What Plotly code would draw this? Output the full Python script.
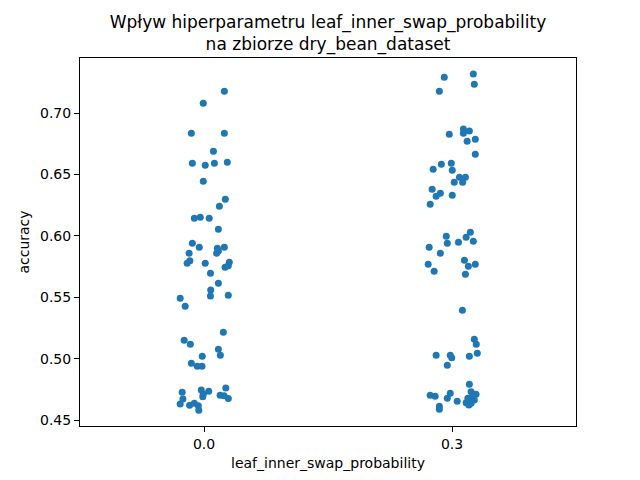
import plotly.graph_objects as go

# categories of the hyperparameter
categories = ["0.0", "0.3"]

# accuracy values for leaf_inner_swap_probability = 0.0
acc_00 = [0.7177, 0.7079, 0.6835, 0.6835, 0.6688, 0.6591, 0.6574, 0.6591, 0.6599, 0.6444,
          0.6298, 0.6241, 0.6143, 0.6151, 0.6143, 0.6053, 0.5939, 0.5907, 0.5899, 0.5907,
          0.5858, 0.5858, 0.5877, 0.5777, 0.5798, 0.5777, 0.5785, 0.5744, 0.5757, 0.5695,
          0.5614, 0.5559, 0.5510, 0.5516, 0.5492, 0.5427, 0.5215, 0.5150, 0.5117, 0.5077,
          0.5028, 0.5020, 0.4963, 0.4938, 0.4938, 0.4727, 0.4672, 0.4631, 0.4621, 0.4637,
          0.4617, 0.4580, 0.4745, 0.4710, 0.4735, 0.4762, 0.4702, 0.4699, 0.4675, 0.4690]
jitter_00 = [0.082, -0.003, -0.051, 0.082, 0.038, -0.047, 0.005, 0.042, 0.094, -0.003,
             0.086, 0.062, -0.039, -0.015, 0.021, 0.058, -0.047, -0.019, 0.054, 0.082,
             -0.060, 0.051, 0.058, -0.068, -0.057, 0.005, 0.102, 0.085, 0.098, 0.026,
             0.058, 0.027, 0.026, 0.098, -0.096, -0.076, 0.078, -0.080, -0.055, 0.058,
             0.066, -0.007, -0.051, -0.027, -0.008, -0.088, -0.085, -0.096, -0.058, -0.039,
             -0.023, -0.021, -0.011, -0.003, 0.019, 0.088, 0.065, 0.081, 0.098, -0.005]

# accuracy values for leaf_inner_swap_probability = 0.3
acc_03 = [0.7291, 0.7317, 0.7234, 0.7177, 0.6827, 0.6870, 0.6835, 0.6853, 0.6770, 0.6786,
          0.6664, 0.6591, 0.6582, 0.6542, 0.6534, 0.6477, 0.6477, 0.6436, 0.6436, 0.6379,
          0.6346, 0.6322, 0.6330, 0.6257, 0.6029, 0.5996, 0.5988, 0.5939, 0.5948, 0.5956,
          0.5907, 0.5858, 0.5768, 0.5711, 0.5801, 0.5752, 0.5768, 0.5687, 0.5394, 0.5158,
          0.5117, 0.5028, 0.5028, 0.5008, 0.5020, 0.5044, 0.4946, 0.4792, 0.4702, 0.4694,
          0.4718, 0.4678, 0.4653, 0.4613, 0.4588, 0.4731, 0.4710, 0.4691, 0.4678, 0.4664,
          0.4642, 0.4637, 0.4623]
jitter_03 = [-0.031, 0.086, 0.090, -0.051, -0.011, 0.046, 0.046, 0.070, 0.061, 0.094,
             0.094, -0.003, -0.043, -0.076, 0.001, 0.030, 0.054, 0.009, 0.043, -0.080,
             -0.047, -0.064, 0.001, -0.088, 0.074, -0.023, 0.057, -0.019, 0.026, 0.086,
             -0.092, -0.047, -0.096, -0.072, 0.050, 0.066, 0.094, 0.054, 0.042, 0.090,
             0.098, -0.064, -0.007, -0.001, 0.070, 0.102, -0.019, 0.070, -0.088, -0.068,
             -0.007, -0.019, 0.021, -0.051, -0.051, 0.077, 0.097, 0.084, 0.064, 0.090,
             0.057, 0.077, 0.068]

groups = [acc_00, acc_03]
jitters = [jitter_00, jitter_03]

fig = go.Figure()
for i, (acc, jit) in enumerate(zip(groups, jitters)):
    fig.add_trace(go.Scatter(
        x=[i + j for j in jit], y=acc, mode="markers",
        marker=dict(size=7, color="#1f77b4"),
        showlegend=False, hoverinfo="y",
    ))

axis_style = dict(showline=True, linecolor="black", linewidth=1, mirror=True,
                  ticks="outside", ticklen=5, tickcolor="black", showgrid=False,
                  zeroline=False, tickfont=dict(size=14, color="black"))

# page body adds ~8px offset, so margins are trimmed on the left/top
fig.update_layout(
    width=640, height=480,
    paper_bgcolor="white", plot_bgcolor="white",
    font=dict(family="DejaVu Sans", color="black"),
    margin=dict(l=72, r=72, t=50, b=62),
    title=dict(text="Wpływ hiperparametru leaf_inner_swap_probability<br>na zbiorze dry_bean_dataset",
               x=0.5, xanchor="center", xref="paper",
               y=0.958, yanchor="top", yref="container",
               font=dict(size=17, color="black")),
    xaxis=dict(range=[-0.5, 1.5], tickvals=[0, 1], ticktext=categories,
               title=dict(text="leaf_inner_swap_probability", font=dict(size=14), standoff=7),
               **axis_style),
    yaxis=dict(range=[0.4452, 0.7448], tickvals=[0.45, 0.5, 0.55, 0.6, 0.65, 0.7],
               ticktext=["0.45", "0.50", "0.55", "0.60", "0.65", "0.70"],
               title=dict(text="accuracy", font=dict(size=14), standoff=7),
               **axis_style),
)

fig.write_html("out.html")
